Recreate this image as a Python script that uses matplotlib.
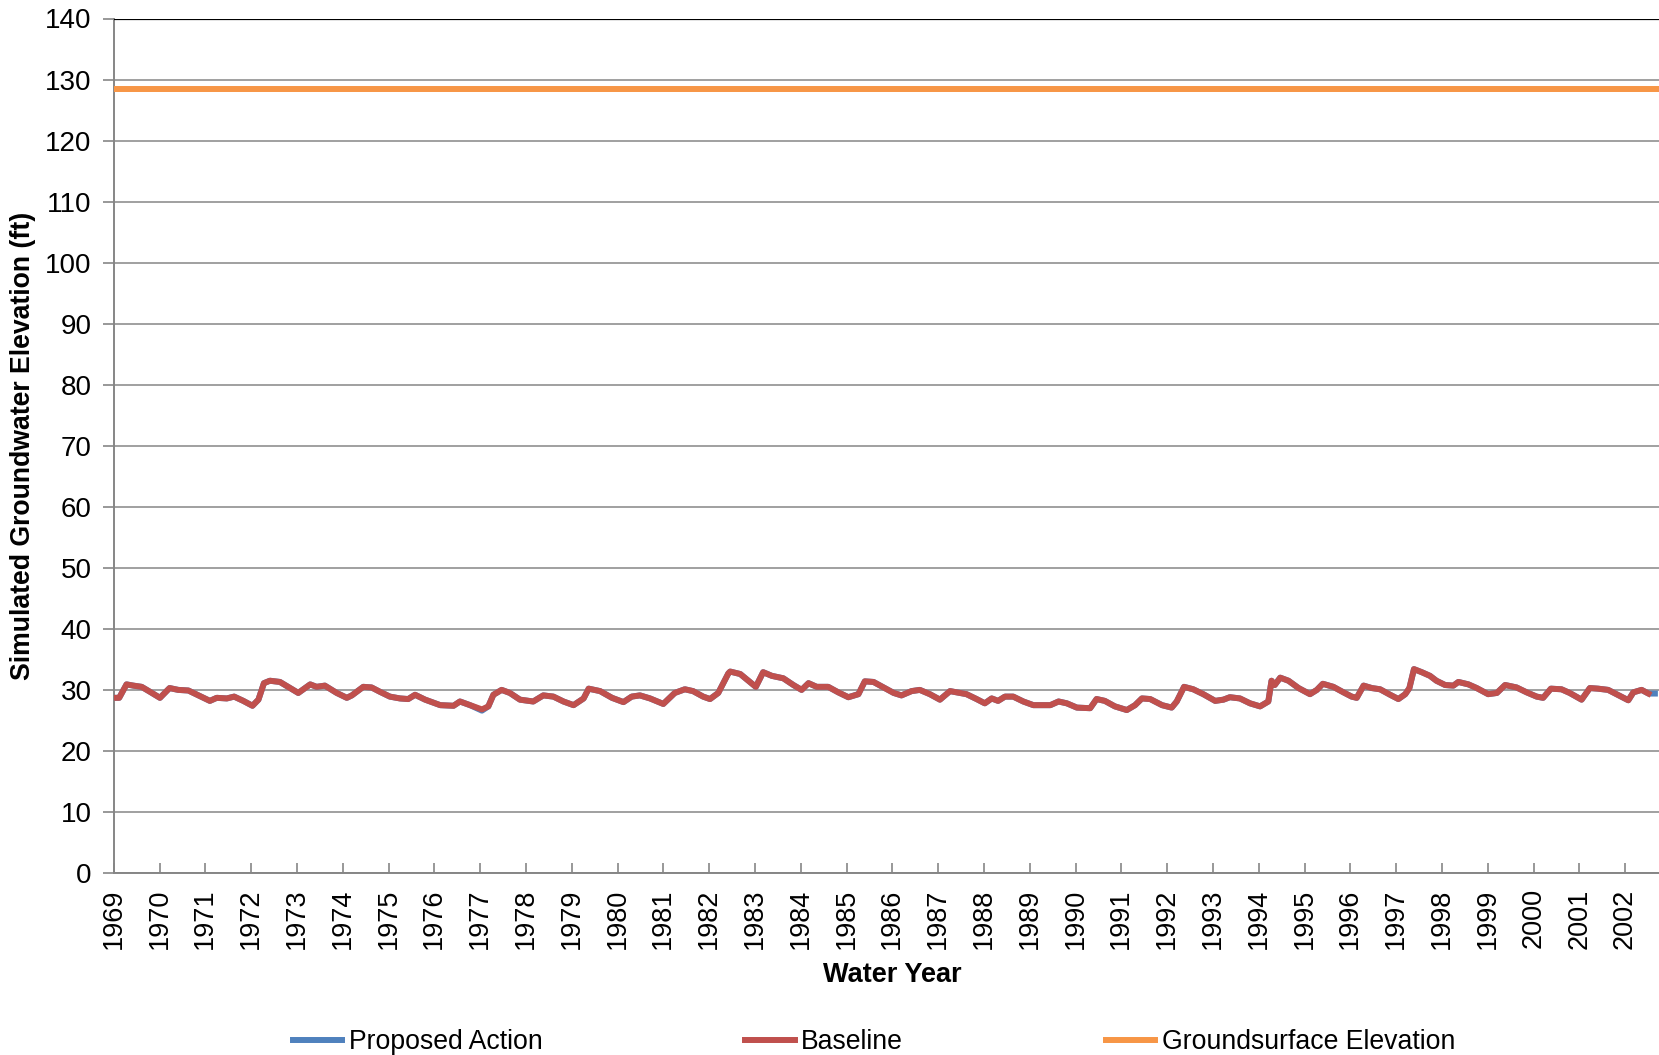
import matplotlib.pyplot as plt

plt.rcParams['font.family'] = ['Liberation Sans', 'DejaVu Sans']

# simulated groundwater elevation (ft) at its turning points
years = [1969.00, 1969.12, 1969.28, 1969.43, 1969.61, 1969.79, 1970.01, 1970.22, 1970.41, 1970.63,
         1970.85, 1971.10, 1971.25, 1971.47, 1971.63, 1971.83, 1972.03, 1972.16, 1972.28, 1972.41,
         1972.63, 1972.85, 1973.03, 1973.29, 1973.43, 1973.61, 1973.87, 1974.09, 1974.20, 1974.45,
         1974.63, 1974.81, 1975.03, 1975.25, 1975.43, 1975.58, 1975.80, 1975.91, 1976.13, 1976.42,
         1976.56, 1976.78, 1977.04, 1977.18, 1977.29, 1977.47, 1977.65, 1977.87, 1978.16, 1978.38,
         1978.60, 1978.82, 1979.04, 1979.26, 1979.37, 1979.62, 1979.88, 1980.13, 1980.31, 1980.49,
         1980.71, 1981.00, 1981.25, 1981.47, 1981.65, 1981.87, 1982.02, 1982.20, 1982.42, 1982.46,
         1982.68, 1983.02, 1983.18, 1983.37, 1983.62, 1983.84, 1984.02, 1984.17, 1984.35, 1984.60,
         1984.82, 1985.04, 1985.26, 1985.40, 1985.59, 1985.81, 1986.03, 1986.20, 1986.42, 1986.60,
         1986.82, 1987.04, 1987.26, 1987.48, 1987.62, 1987.84, 1988.02, 1988.17, 1988.31, 1988.46,
         1988.64, 1988.86, 1989.08, 1989.34, 1989.45, 1989.63, 1989.81, 1990.03, 1990.32, 1990.46,
         1990.64, 1990.86, 1991.12, 1991.30, 1991.45, 1991.63, 1991.89, 1992.10, 1992.21, 1992.37,
         1992.57, 1992.79, 1993.05, 1993.23, 1993.37, 1993.59, 1993.81, 1994.03, 1994.21, 1994.28,
         1994.35, 1994.47, 1994.65, 1994.87, 1995.12, 1995.27, 1995.40, 1995.63, 1995.85, 1996.03,
         1996.14, 1996.29, 1996.47, 1996.65, 1996.87, 1997.05, 1997.20, 1997.29, 1997.39, 1997.56,
         1997.74, 1997.88, 1998.07, 1998.25, 1998.36, 1998.58, 1998.76, 1999.01, 1999.20, 1999.38,
         1999.63, 1999.85, 2000.07, 2000.21, 2000.38, 2000.61, 2000.79, 2001.05, 2001.23, 2001.41,
         2001.63, 2001.81, 2002.07, 2002.18, 2002.36, 2002.51]
baseline = [28.7, 28.7, 30.9, 30.7, 30.5, 29.7, 28.7, 30.3, 30.0, 29.9,
            29.1, 28.2, 28.7, 28.6, 28.9, 28.2, 27.4, 28.4, 31.1, 31.5,
            31.3, 30.3, 29.5, 30.9, 30.5, 30.7, 29.5, 28.7, 29.1, 30.5,
            30.4, 29.7, 28.9, 28.6, 28.5, 29.2, 28.4, 28.1, 27.5, 27.4,
            28.1, 27.5, 26.8, 27.3, 29.2, 30.0, 29.5, 28.4, 28.1, 29.1,
            28.9, 28.1, 27.5, 28.6, 30.2, 29.8, 28.7, 28.0, 28.9, 29.1,
            28.6, 27.7, 29.5, 30.1, 29.8, 28.9, 28.5, 29.5, 32.7, 33.0,
            32.6, 30.5, 32.9, 32.3, 31.9, 30.8, 30.0, 31.1, 30.5, 30.5,
            29.6, 28.8, 29.3, 31.4, 31.3, 30.4, 29.5, 29.1, 29.8, 30.0,
            29.3, 28.4, 29.8, 29.5, 29.3, 28.5, 27.8, 28.6, 28.2, 28.9,
            28.9, 28.1, 27.5, 27.5, 27.5, 28.1, 27.8, 27.1, 27.0, 28.5,
            28.2, 27.3, 26.7, 27.5, 28.6, 28.5, 27.5, 27.1, 28.1, 30.5,
            30.1, 29.3, 28.2, 28.4, 28.8, 28.6, 27.8, 27.3, 28.1, 31.5,
            30.8, 32.0, 31.5, 30.3, 29.3, 30.0, 31.0, 30.5, 29.6, 28.9,
            28.7, 30.7, 30.3, 30.1, 29.2, 28.5, 29.3, 30.3, 33.4, 32.9,
            32.3, 31.5, 30.8, 30.7, 31.3, 30.9, 30.3, 29.3, 29.5, 30.8,
            30.4, 29.6, 28.9, 28.7, 30.2, 30.1, 29.5, 28.4, 30.3, 30.2,
            30.0, 29.3, 28.3, 29.6, 30.0, 29.4]
# proposed action sits under the baseline and runs a little further
proposed_years = years + [2002.65]
proposed = baseline[:42] + [26.6] + baseline[43:] + [29.4]
ground_elev = 128.4
x_end = 2002.74

fig = plt.figure(figsize=(16.59, 10.55), dpi=100)
ax = fig.add_axes([113.7 / 1659, 1 - 873 / 1055, 1 - 113.7 / 1659, (873 - 18.5) / 1055])

ax.plot(proposed_years, proposed, color='#4F81BD', lw=4.3, label='Proposed Action', zorder=3)
ax.plot(years, baseline, color='#C0504D', lw=4.3, label='Baseline', zorder=4)
ax.plot([1969, x_end], [ground_elev, ground_elev], color='#F79646', lw=4.3,
        label='Groundsurface Elevation', zorder=3)

ax.set_xlim(1969, x_end)
ax.set_ylim(0, 140)
ax.set_yticks(range(0, 141, 10))
ax.set_xticks(range(1969, 2003))
ax.set_xticklabels([str(y) for y in range(1969, 2003)], rotation=90)

ax.grid(axis='y', color='#868686', lw=1.1)
ax.axhline(140, color='black', lw=1.6, zorder=5)
for s in ['top', 'right']:
    ax.spines[s].set_visible(False)
for s in ['left', 'bottom']:
    ax.spines[s].set_color('#868686')
    ax.spines[s].set_linewidth(1.4)
ax.tick_params(axis='y', direction='out', length=8, width=1.2, color='#868686', labelsize=20, pad=8)
ax.tick_params(axis='x', direction='in', length=7, width=1.2, color='#868686', labelsize=19.5, pad=11)

ax.set_ylabel('Simulated Groundwater Elevation (ft)', fontsize=19.2, fontweight='bold', va='center')
ax.yaxis.set_label_coords((23 - 113.7) / 1545, 0.5)
ax.set_xlabel('Water Year', fontsize=19.5, fontweight='bold', va='center')
ax.xaxis.set_label_coords((892 - 113.7) / 1545, (873 - 975) / 854.5)

fig.legend(loc='center', bbox_to_anchor=(874 / 1659, 1 - 1042 / 1055), ncol=3, frameon=False,
           fontsize=19.2, handlelength=1.85, handletextpad=0.25, columnspacing=7.6)

fig.savefig('out.png', dpi=100)
